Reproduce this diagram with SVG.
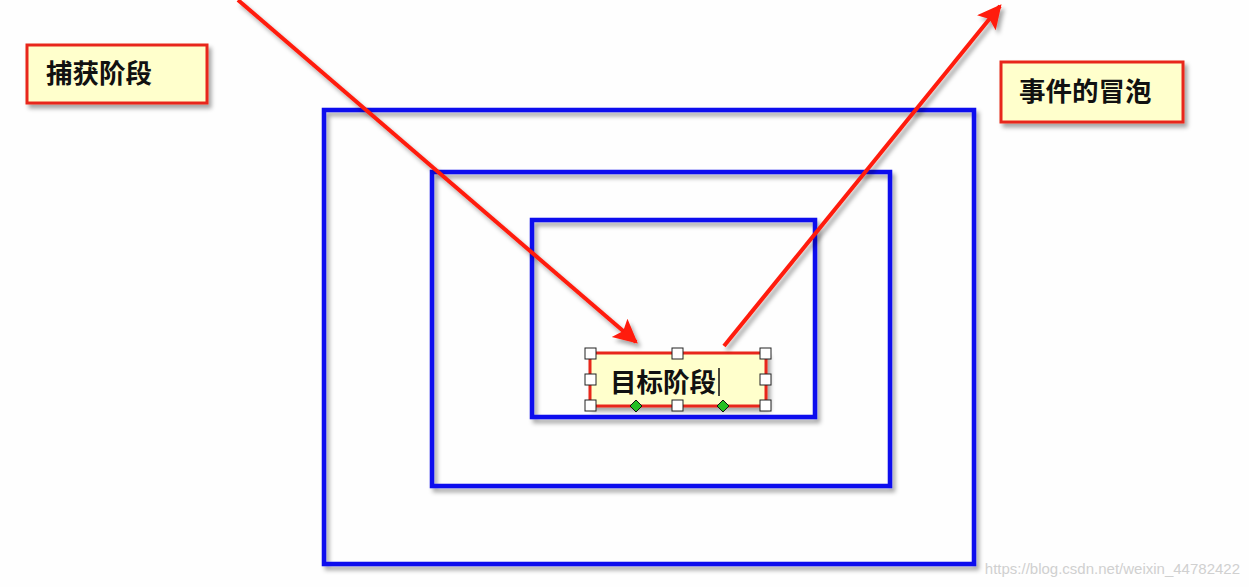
<svg xmlns="http://www.w3.org/2000/svg" width="1249" height="587" viewBox="0 0 1249 587">
<defs>
<filter id="sh" x="-10%" y="-10%" width="130%" height="130%">
<feDropShadow dx="3" dy="4" stdDeviation="2" flood-color="#000" flood-opacity="0.35"/>
</filter>
<marker id="ah" viewBox="0 0 10 10" refX="9" refY="5" markerWidth="9" markerHeight="6" markerUnits="strokeWidth" orient="auto">
<path d="M0,0 L10,5 L0,10 L2,5 z" fill="#ff1a0a"/>
</marker>
<style>
.frame{fill:none;stroke:#0a0aee;stroke-width:4.5;filter:url(#sh)}
.box{fill:#ffffcc;stroke:#e8281a;stroke-width:3;filter:url(#sh)}
.lbl{font-family:"Noto Sans CJK SC","Liberation Sans",sans-serif;font-weight:bold;font-size:26.5px;fill:#111}
.arr{stroke:#ff1a0a;stroke-width:4;fill:none;marker-end:url(#ah);filter:url(#sh)}
.hd{fill:#fff;stroke:#222;stroke-width:1}
.gd{fill:#22c022;stroke:#111;stroke-width:1}
</style>
</defs>
<rect width="1249" height="587" fill="#fefefe"/>
<g id="frames">
<rect id="outer" class="frame" x="324" y="110" width="650" height="454"/>
<rect id="middle" class="frame" x="432" y="172" width="458" height="314"/>
<rect id="inner" class="frame" x="532" y="220" width="283" height="197"/>
</g>
<g id="capture">
<rect class="box" x="27" y="45" width="180" height="58"/>
<text class="lbl" x="46" y="83">捕获阶段</text>
</g>
<g id="bubble">
<rect class="box" x="1001" y="62" width="182" height="60"/>
<text class="lbl" x="1019" y="101">事件的冒泡</text>
</g>
<g id="target">
<rect class="box" x="590" y="353" width="176" height="53"/>
<text class="lbl" x="610" y="392">目标阶段</text>
<line x1="719" y1="368" x2="719" y2="396" stroke="#111" stroke-width="1.5"/>
<rect class="hd" x="585" y="348" width="11" height="11"/>
<rect class="hd" x="672" y="348" width="11" height="11"/>
<rect class="hd" x="760" y="348" width="11" height="11"/>
<rect class="hd" x="585" y="374" width="11" height="11"/>
<rect class="hd" x="760" y="374" width="11" height="11"/>
<rect class="hd" x="585" y="400" width="11" height="11"/>
<rect class="hd" x="672" y="400" width="11" height="11"/>
<rect class="hd" x="760" y="400" width="11" height="11"/>
<path class="gd" d="M636,400 L642,406 L636,412 L630,406 z"/>
<path class="gd" d="M723,400 L729,406 L723,412 L717,406 z"/>
</g>
<g id="connectors">
<line class="arr" x1="238" y1="0" x2="636" y2="342"/>
<line class="arr" x1="724" y1="346" x2="1000" y2="6"/>
</g>
<text x="1240" y="574" text-anchor="end" font-family="Liberation Sans, sans-serif" font-size="15" fill="#d0d0d0">https://blog.csdn.net/weixin_44782422</text>
</svg>
